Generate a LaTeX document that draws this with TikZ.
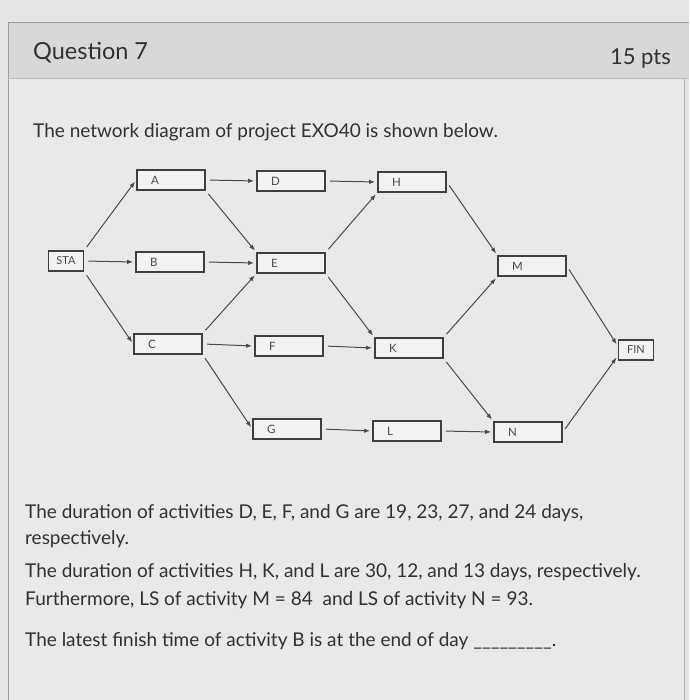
\documentclass[tikz,border=0pt]{standalone}
\usepackage{fontspec}
\setmainfont{Lato}
\usetikzlibrary{arrows.meta}
\definecolor{bgpage}{HTML}{E5E5E3}
\definecolor{bgbody}{HTML}{E9E9E7}
\definecolor{bghead}{HTML}{D8D8D7}
\definecolor{frame}{HTML}{9C9C9C}
\definecolor{ink}{HTML}{2E3136}
\definecolor{boxline}{HTML}{3F3F3F}
\definecolor{edge}{HTML}{4A4A4A}
\definecolor{lbl}{HTML}{4A4A4A}
\begin{document}
\begin{tikzpicture}[x=1pt,y=-1pt,
  act/.style={draw=boxline, line width=1.6pt, fill=bgbody!60!white,
    minimum height=20pt, text width=68pt, align=left, inner sep=0pt,
    font=\fontsize{11.5}{13}\selectfont, text=lbl},
  endbox/.style={draw=boxline, line width=1.6pt, fill=bgbody!60!white,
    minimum height=20pt, minimum width=35pt, inner sep=0pt,
    font=\fontsize{11}{13}\selectfont, text=lbl},
  conn/.style={draw=edge, line width=1pt, -{Latex[length=6pt,width=4.5pt]},
    shorten <=4pt, shorten >=2pt},
  txt/.style={anchor=base west, inner sep=0pt, text=ink, font=\fontsize{19}{22}\selectfont}
]
\useasboundingbox (0,0) rectangle (689,700);
\fill[bgpage] (0,0) rectangle (689,700);
\fill[bgbody] (8,78) rectangle (684,700);
\fill[bghead] (8,23) rectangle (689,78);
\draw[frame, line width=1pt] (689,23) -- (8,23) -- (8,700);
\draw[frame!70!white, line width=0.8pt] (8,78) -- (689,78);
\draw[frame!80!white, line width=0.8pt] (684,78) -- (684,700);

\node[anchor=base west, inner sep=0pt, text=ink, font=\fontsize{23.5}{26}\selectfont] (q) at (33,60) {Question 7};
\node[anchor=base east, inner sep=0pt, text=ink, font=\fontsize{22}{24}\selectfont] (pts) at (671,65) {15 pts};
\node[txt] (intro) at (33,138) {The network diagram of project EXO40 is shown below.};

\node[endbox] (STA) at (66,261) {STA};
\node[act] (A) at (171,180) {\hspace*{14pt}A};
\node[act] (B) at (170,262) {\hspace*{14pt}B};
\node[act] (C) at (168,344) {\hspace*{14pt}C};
\node[act] (D) at (291,181) {\hspace*{14pt}D};
\node[act] (E) at (291,263) {\hspace*{14pt}E};
\node[act] (F) at (289,346) {\hspace*{14pt}F};
\node[act] (G) at (287,429) {\hspace*{14pt}G};
\node[act] (H) at (412,182) {\hspace*{14pt}H};
\node[act] (K) at (409,348) {\hspace*{14pt}K};
\node[act] (L) at (407,431) {\hspace*{14pt}L};
\node[act] (M) at (532,266) {\hspace*{14pt}M};
\node[act] (N) at (528,432) {\hspace*{14pt}N};
\node[endbox] (FIN) at (636,350) {FIN};

\draw[conn] (STA.north east) -- (A.west);
\draw[conn] (STA.east) -- (B.west);
\draw[conn] (STA.south east) -- (C.west);
\draw[conn] (A.east) -- (D.west);
\draw[conn] (A.south east) -- (E.north west);
\draw[conn] (B.east) -- (E.west);
\draw[conn] (C.north east) -- (E.south west);
\draw[conn] (C.east) -- (F.west);
\draw[conn] (C.south east) -- (G.west);
\draw[conn] (D.east) -- (H.west);
\draw[conn] (E.north east) -- (H.south west);
\draw[conn] (E.south east) -- (K.north west);
\draw[conn] (F.east) -- (K.west);
\draw[conn] (G.east) -- (L.west);
\draw[conn] (H.east) -- (M.north west);
\draw[conn] (K.north east) -- (M.south west);
\draw[conn] (K.south east) -- (N.north west);
\draw[conn] (L.east) -- (N.west);
\draw[conn] (M.east) -- ([yshift=4pt]FIN.west);
\draw[conn] (N.east) -- ([yshift=-6pt]FIN.west);

\node[txt] (l1) at (25,518) {The duration of activities D, E, F, and G are 19, 23, 27, and 24 days,};
\node[txt] (l2) at (25,544) {respectively.};
\node[txt] (l3) at (25,577) {The duration of activities H, K, and L are 30, 12, and 13 days, respectively.};
\node[txt] (l4) at (25,605) {Furthermore, LS of activity M = 84\ \ and LS of activity N = 93.};
\node[txt] (l5) at (25,646) {The latest finish time of activity B is at the end of day \_\_\_\_\_\_\_\_\_.};
\end{tikzpicture}
\end{document}
